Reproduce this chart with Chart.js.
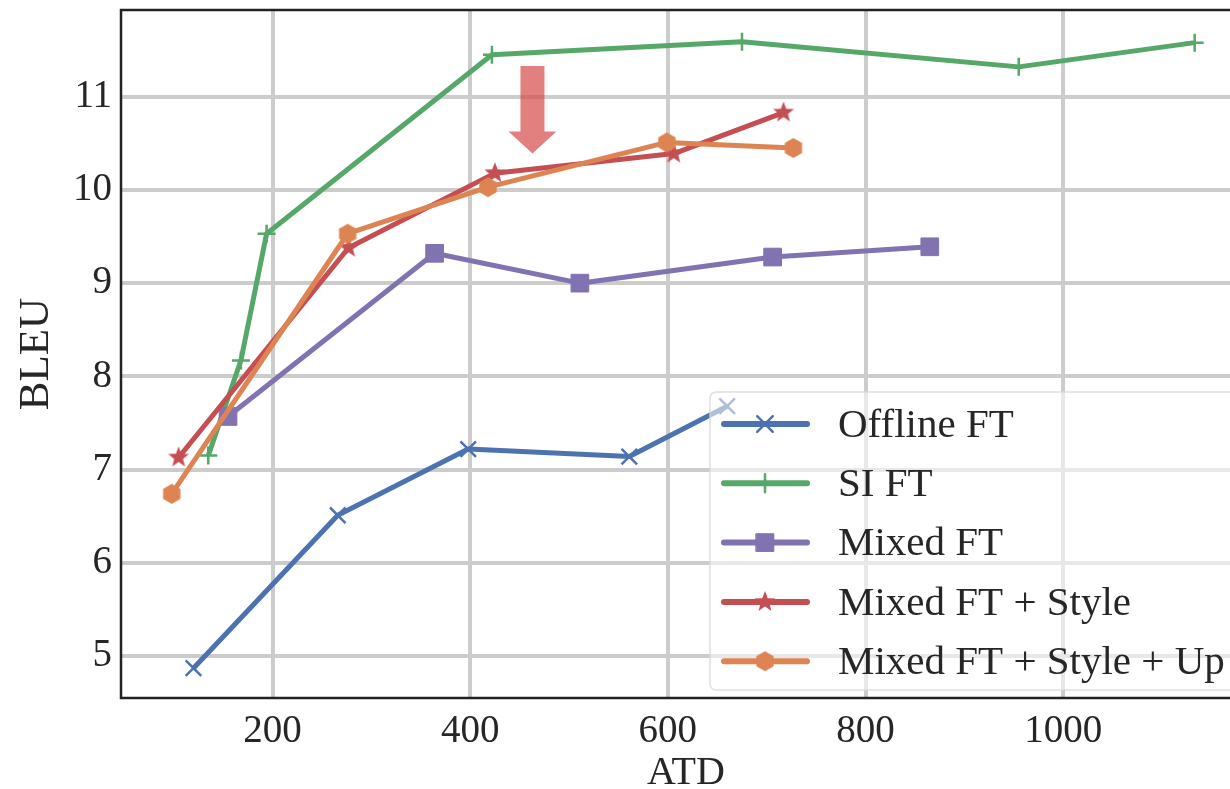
<!DOCTYPE html>
<html>
<head>
<meta charset="utf-8">
<script src="https://cdn.jsdelivr.net/npm/chart.js@4.4.0/dist/chart.umd.min.js"></script>
<style>
  html, body { margin: 0; padding: 0; background: #fff; overflow: hidden; }
  #wrap { width: 1252px; height: 789px; }
</style>
</head>
<body>
<div id="wrap"><canvas id="chart" width="1252" height="789"></canvas></div>
<script>
// values (ATD on x, BLEU on y)
const seriesNames = ['Offline FT', 'SI FT', 'Mixed FT', 'Mixed FT + Style', 'Mixed FT + Style + Up'];
const offlineX = [120, 266, 398, 561, 660];
const offlineY = [4.87, 6.51, 7.22, 7.14, 7.68];
const siX = [135, 168, 194, 422, 675, 955, 1133];
const siY = [7.15, 8.17, 9.53, 11.45, 11.59, 11.32, 11.58];
const mixedX = [155, 364, 511, 706, 865];
const mixedY = [7.57, 9.32, 9.00, 9.28, 9.39];
const styleX = [105, 277, 425, 606, 717];
const styleY = [7.13, 9.38, 10.18, 10.39, 10.83];
const upX = [98, 276, 418, 599, 727];
const upY = [6.74, 9.53, 10.03, 10.51, 10.45];
const xTicks = [200, 400, 600, 800, 1000];
const yTicks = [5, 6, 7, 8, 9, 10, 11];
// the red arrow, in data units
const arrowAt = { x: 463, yTop: 11.33, yTip: 10.39 };

const colors = ['#4C72B0', '#55A868', '#8172B2', '#C44E52', '#DD8452'];
const FONT = "'Liberation Serif', 'DejaVu Serif', serif";
const TEXT = '#262626';

// filled star / hexagon like matplotlib's '*' and 'h'
function markerCanvas(kind, color, r) {
  const c = document.createElement('canvas');
  const s = Math.ceil(r * 2 + 4);
  c.width = s; c.height = s;
  const g = c.getContext('2d');
  g.translate(s / 2, s / 2);
  g.fillStyle = color;
  g.beginPath();
  if (kind === 'star') {
    for (let i = 0; i < 10; i++) {
      const rad = i % 2 ? r * 0.42 : r;
      const a = -Math.PI / 2 + i * Math.PI / 5;
      g.lineTo(rad * Math.cos(a), rad * Math.sin(a));
    }
  } else {
    for (let i = 0; i < 6; i++) {
      const a = -Math.PI / 2 + i * Math.PI / 3;
      g.lineTo(r * Math.cos(a), r * Math.sin(a));
    }
  }
  g.closePath();
  g.fill();
  return c;
}

const markers = [
  { pointStyle: 'crossRot', radius: 11, borderWidth: 2.5 },
  { pointStyle: 'cross', radius: 9, borderWidth: 2.5 },
  { pointStyle: 'rect', radius: 12.5, borderWidth: 1 },
  { pointStyle: markerCanvas('star', colors[3], 11), radius: 11, borderWidth: 0 },
  { pointStyle: markerCanvas('hex', colors[4], 10), radius: 10, borderWidth: 0 }
];

const xs = [offlineX, siX, mixedX, styleX, upX];
const ys = [offlineY, siY, mixedY, styleY, upY];

const datasets = seriesNames.map((name, i) => ({
  label: name,
  data: xs[i].map((x, j) => ({ x: x, y: ys[i][j] })),
  borderColor: colors[i],
  backgroundColor: colors[i],
  borderWidth: 5,
  borderJoinStyle: 'round',
  pointStyle: markers[i].pointStyle,
  pointRadius: markers[i].radius,
  pointHoverRadius: markers[i].radius,
  pointBorderWidth: markers[i].borderWidth,
  pointBorderColor: colors[i],
  pointBackgroundColor: colors[i],
  order: seriesNames.length - i,
  tension: 0,
  fill: false
}));

const framePlugin = {
  id: 'frame',
  afterDatasetsDraw(chart) {
    const { ctx, chartArea: a, scales } = chart;
    // arrow
    const ax = scales.x.getPixelForValue(arrowAt.x);
    const y0 = scales.y.getPixelForValue(arrowAt.yTop);
    const y1 = scales.y.getPixelForValue(arrowAt.yTip);
    const headLen = 22, shaftHalf = 12, headHalf = 24;
    ctx.save();
    ctx.fillStyle = 'rgba(214, 72, 72, 0.7)';
    ctx.beginPath();
    ctx.moveTo(ax - shaftHalf, y0);
    ctx.lineTo(ax + shaftHalf, y0);
    ctx.lineTo(ax + shaftHalf, y1 - headLen);
    ctx.lineTo(ax + headHalf, y1 - headLen);
    ctx.lineTo(ax, y1);
    ctx.lineTo(ax - headHalf, y1 - headLen);
    ctx.lineTo(ax - shaftHalf, y1 - headLen);
    ctx.closePath();
    ctx.fill();
    // spines
    ctx.strokeStyle = '#222';
    ctx.lineWidth = 2.5;
    ctx.strokeRect(a.left, a.top, a.right - a.left, a.bottom - a.top);
    ctx.restore();
  },
  afterDraw(chart) {
    const { ctx, chartArea: a } = chart;
    const left = 710, top = 392;
    ctx.save();
    ctx.fillStyle = 'rgba(255,255,255,0.55)';
    ctx.strokeStyle = 'rgba(215,215,215,0.8)';
    ctx.lineWidth = 1.5;
    ctx.beginPath();
    ctx.roundRect(left, top, a.right - 8 - left, a.bottom - 8 - top, 6);
    ctx.fill();
    ctx.stroke();
    ctx.font = '41px ' + FONT;
    ctx.textBaseline = 'middle';
    ctx.fillStyle = TEXT;
    seriesNames.forEach((name, i) => {
      const y = top + 32 + i * 59.3;
      ctx.strokeStyle = colors[i];
      ctx.fillStyle = colors[i];
      ctx.lineWidth = 6;
      ctx.lineCap = 'round';
      ctx.beginPath();
      ctx.moveTo(724, y);
      ctx.lineTo(807, y);
      ctx.stroke();
      ctx.lineWidth = markers[i].borderWidth;
      Chart.helpers.drawPoint(ctx, {
        pointStyle: markers[i].pointStyle,
        radius: markers[i].radius,
        borderWidth: markers[i].borderWidth,
        rotation: 0
      }, 765, y);
      ctx.fillStyle = TEXT;
      ctx.fillText(name, 838, y + 2);
    });
    ctx.restore();
  }
};

new Chart(document.getElementById('chart'), {
  type: 'line',
  data: { datasets: datasets },
  options: {
    responsive: false,
    animation: false,
    devicePixelRatio: 1,
    layout: { autoPadding: false, padding: { top: 10, right: 1, left: 0, bottom: 0 } },
    plugins: { legend: { display: false }, tooltip: { enabled: false } },
    scales: {
      x: {
        type: 'linear',
        min: 46.7,
        max: 1190,
        grid: { color: '#cccccc', lineWidth: 4, drawTicks: false },
        border: { display: false },
        afterBuildTicks: s => { s.ticks = xTicks.map(v => ({ value: v })); },
        afterFit: s => { s.height = 91; s.paddingLeft = 0; s.paddingRight = 0; },
        ticks: { color: TEXT, padding: 10, font: { family: FONT, size: 39 },
                 callback: v => String(v) },
        title: { display: true, text: 'ATD', color: TEXT, padding: 0,
                 font: { family: FONT, size: 40, lineHeight: 0.8 } }
      },
      y: {
        min: 4.55,
        max: 11.93,
        grid: { color: '#cccccc', lineWidth: 4, drawTicks: false },
        border: { display: false },
        afterBuildTicks: s => { s.ticks = yTicks.map(v => ({ value: v })); },
        afterFit: s => { s.width = 121; s.paddingTop = 0; s.paddingBottom = 0; },
        ticks: { color: TEXT, padding: 9, font: { family: FONT, size: 39 } },
        title: { display: true, text: 'BLEU', color: TEXT, padding: { top: 20, bottom: 0 },
                 font: { family: FONT, size: 43, lineHeight: 0.8 } }
      }
    }
  },
  plugins: [framePlugin]
});
</script>
</body>
</html>
